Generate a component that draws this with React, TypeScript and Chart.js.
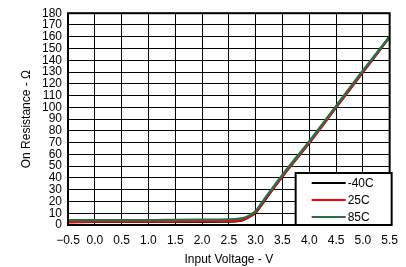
import React, { useEffect, useRef } from "react";
import { Chart, registerables } from "chart.js";

Chart.register(...registerables);

const voltages = [-0.5, 0, 0.5, 1.0, 1.5, 2.0, 2.5, 2.7, 2.8, 2.9, 3.0, 3.1, 3.2, 3.5, 4.0, 4.5, 5.0, 5.5];
const rMinus40 = [2.5, 2.8, 2.8, 2.8, 2.8, 2.8, 2.9, 3.5, 5, 7.5, 10.5, 16.5, 23, 41.5, 70, 100, 130, 160];
const r25 = [2.5, 3, 3, 3, 3, 3.2, 3.3, 3.8, 5.3, 7.8, 11, 17, 23.5, 41.5, 70, 100, 130, 160];
const r85 = [4, 4, 4, 4, 4.3, 4.5, 4.7, 5.3, 6.3, 8.5, 11.8, 17.8, 24.2, 42.5, 71, 101, 131, 160];
const seriesLabels = ["-40C", "25C", "85C"];
const seriesColors = ["#000000", "#ff0000", "#2a6e48"];
const xTitle = "Input Voltage - V";
const yTitle = "On Resistance - \u03a9";

const FONT = "'Liberation Sans', Arial, sans-serif";
const FS = 12;

const frameAndLegend = {
  id: "frameAndLegend",
  afterDraw(chart: any) {
    const ctx = chart.ctx;
    const a = chart.chartArea;
    ctx.save();
    ctx.strokeStyle = "#000";
    ctx.lineWidth = 2;
    ctx.strokeRect(a.left, a.top, a.right - a.left, a.bottom - a.top);
    // legend box
    const bw = 96, bh = 52;
    const bx = a.right - bw + 2, by = a.bottom - bh;
    ctx.fillStyle = "#fff";
    ctx.fillRect(bx, by, bw, bh);
    ctx.lineWidth = 2;
    ctx.strokeRect(bx, by, bw, bh);
    ctx.font = `${FS}px ${FONT}`;
    ctx.textBaseline = "middle";
    ctx.textAlign = "left";
    chart.data.datasets.forEach((ds: any, i: number) => {
      const y = by + 10 + i * 17;
      ctx.strokeStyle = ds.borderColor;
      ctx.lineWidth = 2;
      ctx.beginPath();
      ctx.moveTo(bx + 16, y);
      ctx.lineTo(bx + 50, y);
      ctx.stroke();
      ctx.fillStyle = "#000";
      ctx.fillText(ds.label, bx + 52, y + 1);
    });
    ctx.restore();
  },
};

export default function App() {
  const ref = useRef<HTMLCanvasElement>(null);
  useEffect(() => {
    document.body.style.margin = "0";
    const series = [rMinus40, r25, r85];
    const chart = new Chart(ref.current!, {
      type: "line",
      data: {
        datasets: series.map((s, i) => ({
          label: seriesLabels[i],
          data: voltages.map((v, j) => ({ x: v, y: s[j] })),
          borderColor: seriesColors[i],
          backgroundColor: seriesColors[i],
          borderWidth: 2.5,
          pointRadius: 0,
          cubicInterpolationMode: "monotone" as const,
          order: 2 - i,
        })),
      },
      options: {
        animation: false,
        responsive: false,
        maintainAspectRatio: false,
        layout: { padding: { top: 6, right: 15, left: 15, bottom: 0 } },
        plugins: { legend: { display: false }, tooltip: { enabled: false } },
        scales: {
          x: {
            type: "linear",
            min: -0.5,
            max: 5.5,
            afterFit: (s: any) => { s.height = 42; },
            ticks: {
              stepSize: 0.5,
              color: "#000",
              padding: 8,
              maxRotation: 0,
              autoSkip: false,
              font: { family: FONT, size: FS },
              callback: (v: any) => Number(v).toFixed(1).replace("-", "\u2212"),
            },
            grid: { color: "#000", lineWidth: 1, drawTicks: false },
            border: { display: false },
            title: { display: true, text: xTitle, color: "#000", font: { family: FONT, size: FS }, padding: { top: 2, bottom: 0 } },
          },
          y: {
            min: 0,
            max: 180,
            afterFit: (s: any) => { s.width = 53; },
            ticks: {
              stepSize: 10,
              color: "#000",
              padding: 6,
              autoSkip: false,
              font: { family: FONT, size: FS },
            },
            grid: { color: "#000", lineWidth: 1, drawTicks: false },
            border: { display: false },
            title: { display: true, text: yTitle, color: "#000", font: { family: FONT, size: FS }, padding: { top: 4, bottom: 4 } },
          },
        },
      },
      plugins: [frameAndLegend],
    });
    return () => chart.destroy();
  }, []);
  return (
    <div style={{ width: 406, height: 267 }}>
      <canvas ref={ref} width={406} height={267} style={{ display: "block" }} />
    </div>
  );
}
